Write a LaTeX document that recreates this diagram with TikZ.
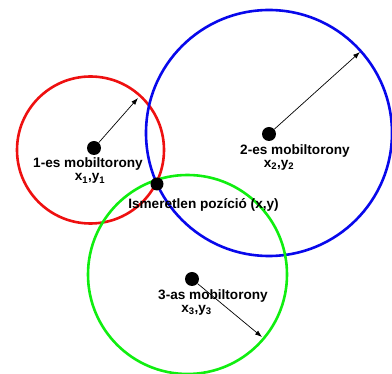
\documentclass[tikz,border=0pt]{standalone}
\usepackage{fontspec}
\setmainfont{Liberation Sans}
\usetikzlibrary{arrows.meta}
\definecolor{cred}{RGB}{238,16,16}
\definecolor{cblue}{RGB}{8,8,235}
\definecolor{cgreen}{RGB}{16,238,16}
\begin{document}
\begin{tikzpicture}[x=1pt,y=-1pt,
  ring/.style={circle,draw=#1,line width=2.6pt,inner sep=0pt,outer sep=0pt},
  dot/.style={circle,fill=black,inner sep=0pt,minimum size=14pt},
  lbl/.style={font=\fontsize{13.6}{15}\selectfont\bfseries,inner sep=0pt},
  coord/.style={lbl,anchor=north},
  radius arrow/.style={-{Latex[length=7pt,width=5pt]},line width=0.7pt}]
\useasboundingbox (0,0) rectangle (392,374);
\node[ring=cred,minimum size=147pt] (c1) at (90.5,150) {};
\node[ring=cblue,minimum size=246pt] (c2) at (269,133) {};
\node[ring=cgreen,minimum size=199pt] (c3) at (187.5,274.5) {};
\node[dot] (t1) at (94,148) {};
\node[dot] (t2) at (269,134) {};
\node[dot] (t3) at (192,279) {};
\node[dot,minimum size=13pt] (p) at (157,184) {};
\coordinate (r1) at (138,98);
\coordinate (r2) at (360,52);
\coordinate (r3) at (262,337);
\draw[radius arrow] (t1) -- (r1);
\draw[radius arrow] (t2) -- (r2);
\draw[radius arrow] (t3) -- (r3);
\node[lbl] (l1) at (88,164) {1-es mobiltorony};
\node[coord] (k1) at (90,173.5) {x\textsubscript{1},y\textsubscript{1}};
\node[lbl] (l2) at (295,151) {2-es mobiltorony};
\node[coord] (k2) at (279,160) {x\textsubscript{2},y\textsubscript{2}};
\node[lbl] (l3) at (213,295.5) {3-as mobiltorony};
\node[coord] (k3) at (196.5,305) {x\textsubscript{3},y\textsubscript{3}};
\node[lbl] (lp) at (203.5,205) {Ismeretlen pozíció (x,y)};
\end{tikzpicture}
\end{document}
